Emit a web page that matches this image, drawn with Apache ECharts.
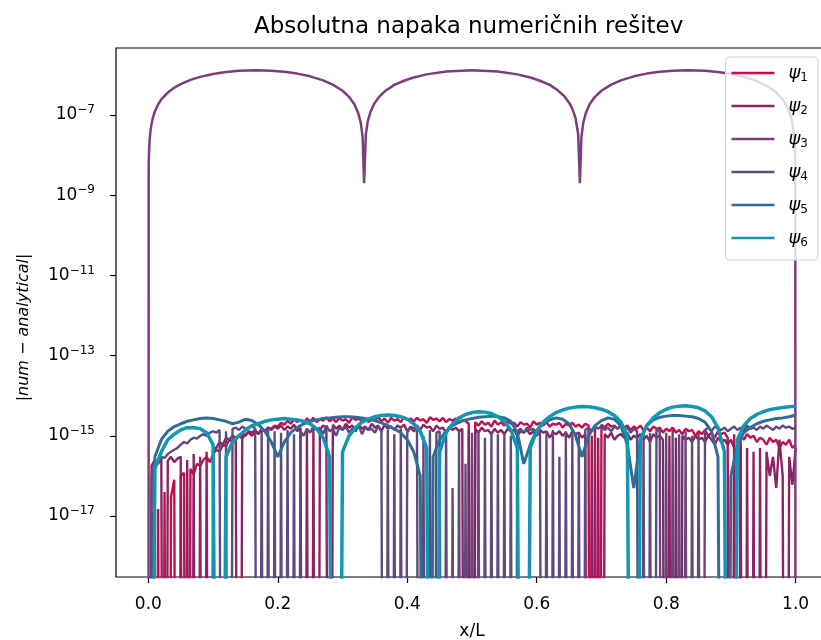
<!DOCTYPE html>
<html>
<head>
<meta charset="utf-8">
<script src="https://cdn.jsdelivr.net/npm/echarts@6/dist/echarts.min.js"></script>
<style>
  html, body { margin: 0; padding: 0; background: #fff; }
  #chart { width: 821px; height: 640px; }
</style>
</head>
<body>
<div id="chart"></div>
<script>
// sample positions x/L: fine grid (step 0.005) for the noisy series,
// coarse grid (step 0.01) for the smoother arches of psi5 / psi6
var xsFine = [], xsCoarse = [];
for (var i = 0; i <= 200; i++) xsFine.push(+(i * 0.005).toFixed(3));
for (var j = 0; j <= 100; j++) xsCoarse.push(+(j * 0.01).toFixed(2));

// |num - analytical|, units of 1e-15 (0 = exact zero)
var psi1 = [
  0, 0.012, 0, 0.015, 0, 0.04, 0, 0.03, 0.08, 0,
  0.1, 0.12, 0, 0.15, 0.11, 0.2, 0.18, 0.25, 0.3, 0.22,
  0.35, 0.45, 0.4, 0.6, 0.55, 0.8, 0.7, 0.9, 1.0, 0.85,
  1.1, 1.2, 1.0, 1.3, 1.15, 1.4, 1.3, 1.6, 1.5, 1.8,
  1.7, 2.1, 1.9, 2.4, 2.0, 2.6, 2.2, 2.5, 2.1, 2.7,
  2.3, 2.8, 2.2, 2.6, 2.4, 2.9, 2.3, 2.7, 2.2, 2.8,
  2.4, 2.6, 2.1, 2.9, 2.5, 2.7, 2.3, 2.8, 2.2, 2.6,
  2.5, 2.9, 2.3, 2.7, 2.1, 2.8, 2.4, 2.6, 2.2, 2.9,
  2.5, 2.7, 2.3, 2.8, 2.4, 2.6, 2.1, 2.9, 2.5, 2.7,
  2.3, 2.8, 2.2, 2.6, 2.4, 2.7, 2.1, 2.5, 2.3, 2.0,
  0, 2.2, 1.8, 2.3, 1.9, 2.1, 1.7, 2.4, 1.9, 2.2,
  1.8, 2.3, 2.0, 2.1, 1.7, 2.2, 1.9, 2.0, 1.6, 2.3,
  1.9, 2.1, 1.8, 2.2, 1.7, 2.0, 1.9, 2.1, 1.6, 2.0,
  1.8, 2.1, 1.7, 1.9, 1.6, 2.0, 1.8, 0, 1.7, 0,
  1.9, 1.6, 2.0, 1.7, 1.8, 1.5, 1.9, 1.6, 1.8, 1.4,
  1.7, 1.5, 1.8, 1.4, 1.6, 1.3, 1.7, 1.5, 1.6, 1.2,
  1.5, 1.3, 1.6, 1.2, 1.4, 1.1, 1.5, 1.3, 1.4, 1.0,
  1.3, 1.1, 1.4, 1.0, 1.2, 0.9, 1.3, 1.1, 1.2, 0.9,
  0, 1.1, 0, 1.0, 0.8, 1.1, 0.9, 1.0, 0.7, 0.9,
  0.8, 0.6, 0.9, 0.7, 0.8, 0.5, 0.7, 0.6, 0.8, 0.5,
  0.6
];
var psi2 = [
  0, 0.18, 0.25, 0.2, 0.28, 0, 0.24, 0.3, 0.22, 0.27,
  0.3, 0, 0.25, 0, 0.35, 0, 0.3, 0, 0.4, 0,
  0.45, 0.5, 0.7, 0.6, 0.9, 0.8, 1.0, 0.9, 0, 1.1,
  1.0, 1.3, 1.2, 1.4, 1.1, 1.5, 1.3, 1.6, 1.4, 1.7,
  1.5, 1.8, 1.4, 1.7, 1.5, 1.9, 1.3, 1.6, 0, 1.5,
  0, 1.7, 0, 1.4, 1.8, 1.6, 0, 1.9, 1.5, 1.8,
  1.4, 2.0, 1.6, 1.8, 1.3, 1.9, 1.5, 1.7, 1.4, 2.0,
  1.6, 1.8, 1.3, 1.9, 1.5, 1.7, 1.4, 1.8, 1.6, 1.9,
  1.3, 1.7, 1.5, 1.8, 1.4, 1.9, 1.6, 1.7, 1.3, 1.8,
  1.5, 1.6, 1.2, 1.7, 1.4, 1.6, 1.3, 1.5, 0, 1.4,
  0, 1.5, 1.2, 1.6, 1.3, 1.4, 1.1, 1.5, 1.2, 1.4,
  1.1, 1.5, 1.3, 1.4, 1.0, 1.3, 1.2, 1.4, 1.1, 1.3,
  1.0, 1.4, 1.2, 1.3, 0.9, 1.2, 1.1, 1.3, 1.0, 1.2,
  0.9, 1.3, 1.1, 1.2, 0.9, 1.1, 0, 1.0, 0, 0.9,
  0, 1.1, 0.9, 1.2, 0.8, 1.0, 1.1, 0.9, 1.2, 0.8,
  1.0, 0.9, 1.1, 0.8, 1.0, 0.7, 1.1, 0.9, 1.0, 0.8,
  0, 1.0, 0, 0.9, 0, 1.0, 0.8, 0.9, 0.7, 1.0,
  0.8, 0.9, 0.7, 1.0, 0.8, 0.6, 0.9, 0.7, 0.8, 0.6,
  0.8, 0.5, 0, 0.6, 0, 0.5, 0, 0.4, 0, 0.5,
  0, 0.4, 0.1, 0.3, 0.05, 0.8, 0.1, 0, 0.3, 0.06,
  0.5
];
var psi4 = [
  0, 0.1, 0.2, 0.25, 0.3, 0.28, 0.35, 0.4, 0.45, 0.5,
  0.6, 0.7, 0.65, 0.8, 0.9, 0.85, 1.0, 1.1, 1.0, 1.2,
  1.3, 1.2, 1.4, 0, 1.3, 0, 1.5, 1.6, 1.4, 1.7,
  1.5, 1.6, 1.8, 1.5, 0, 1.4, 0, 1.6, 0, 1.3,
  0, 1.2, 0, 1.4, 0, 1.1, 0, 1.3, 1.0, 1.5,
  1.2, 1.7, 1.4, 1.6, 1.1, 1.8, 1.3, 1.5, 1.0, 1.6,
  1.4, 1.7, 1.2, 1.5, 1.3, 1.8, 1.1, 1.6, 1.4, 1.5,
  1.2, 1.7, 1.3, 0, 1.4, 0, 1.1, 0, 1.5, 0,
  1.2, 1.6, 1.3, 1.5, 0, 1.0, 0, 1.4, 0, 1.2,
  1.3, 0, 1.4, 0, 0.05, 0, 1.3, 0, 0.2, 0,
  1.2, 0, 1.4, 0, 0.9, 0, 1.3, 0, 1.1, 0,
  1.2, 0, 1.0, 0, 1.3, 1.5, 1.2, 1.6, 1.4, 1.5,
  1.1, 1.3, 0, 1.2, 0, 1.4, 0, 0.3, 0, 1.3,
  0, 1.1, 0, 1.2, 0, 1.4, 1.6, 1.3, 1.7, 1.5,
  1.8, 1.4, 1.6, 1.3, 1.7, 1.5, 1.8, 1.4, 1.6, 1.2,
  1.5, 1.3, 0, 1.4, 0, 1.2, 0, 1.5, 1.3, 0,
  1.2, 0, 1.4, 0, 1.1, 0, 1.3, 0, 1.0, 0,
  1.2, 0, 1.4, 1.6, 1.3, 1.7, 1.5, 1.4, 1.6, 1.3,
  1.5, 1.7, 1.4, 1.6, 1.3, 1.8, 1.5, 1.6, 1.4, 1.7,
  1.5, 1.8, 1.6, 1.4, 1.7, 1.5, 1.8, 1.6, 1.7, 1.5,
  1.6
];
var psi5 = [
  0, 0.3, 0.8, 1.3, 1.7, 2.0, 2.3, 2.5, 2.7, 2.8,
  2.7, 2.5, 2.3, 2.0, 2.2, 2.6, 2.4, 1.9, 1.3, 0.7,
  0.3, 0.7, 1.2, 1.6, 2.0, 2.3, 2.5, 2.7, 2.8, 2.9,
  3.0, 3.0, 2.9, 2.8, 2.6, 2.4, 2.1, 1.8, 1.5, 1.2,
  0.8, 0.4, 0.1, 0, 0.3, 0.8, 1.3, 1.8, 2.2, 2.5,
  2.7, 2.9, 3.0, 3.1, 3.0, 2.8, 2.3, 1.2, 0.2, 0.6,
  1.4, 2.0, 2.5, 2.8, 2.6, 2.0, 1.0, 0.3, 1.0, 1.8,
  2.4, 2.8, 2.6, 1.8, 0.6, 0.05, 0.8, 1.8, 2.5, 2.9,
  3.1, 3.2, 3.2, 3.1, 3.0, 2.7, 2.2, 1.3, 0.3, 0,
  0.1, 0.6, 1.2, 1.6, 2.0, 2.3, 2.5, 2.7, 2.8, 3.0,
  3.3
];
var psi6 = [
  0, 0.15, 0.4, 0.8, 1.1, 1.4, 1.6, 1.6, 1.5, 1.2,
  0.6, 0, 0.3, 0.7, 1.0, 1.4, 1.8, 2.0, 2.3, 2.5,
  2.6, 2.7, 2.6, 2.5, 2.3, 2.0, 1.5, 0.9, 0.3, 0,
  0.4, 1.0, 1.6, 2.2, 2.6, 3.0, 3.2, 3.3, 3.2, 3.0,
  2.6, 2.0, 1.3, 0.5, 0, 0.4, 1.2, 2.0, 2.8, 3.4,
  3.8, 4.0, 3.9, 3.6, 3.0, 2.3, 1.4, 0.5, 0, 0.5,
  1.3, 2.2, 3.0, 3.8, 4.4, 4.9, 5.2, 5.4, 5.3, 5.0,
  4.6, 4.0, 3.2, 2.2, 1.0, 0, 0.8, 1.8, 2.8, 3.8,
  4.6, 5.2, 5.5, 5.6, 5.4, 5.0, 4.2, 3.0, 1.6, 0.4,
  0, 0.8, 1.8, 2.7, 3.4, 4.0, 4.5, 4.8, 5.1, 5.3,
  5.5
];

// psi3 is much larger, units of 1e-6, on its own x positions
var xs3 = [
  0, 0.0005, 0.001, 0.002, 0.003, 0.005, 0.007, 0.01, 0.015, 0.02,
  0.03, 0.04, 0.05, 0.065, 0.08, 0.1, 0.12, 0.14, 0.1667, 0.19,
  0.21, 0.23, 0.25, 0.27, 0.285, 0.3, 0.31, 0.318, 0.324, 0.328,
  0.331, 0.3333, 0.336, 0.339, 0.343, 0.349, 0.357, 0.367, 0.38, 0.395,
  0.41, 0.43, 0.46, 0.5, 0.54, 0.57, 0.59, 0.605, 0.62, 0.632,
  0.642, 0.65, 0.655, 0.66, 0.664, 0.6667, 0.669, 0.672, 0.676, 0.682,
  0.69, 0.7, 0.715, 0.73, 0.75, 0.77, 0.79, 0.81, 0.8333, 0.86,
  0.88, 0.9, 0.92, 0.935, 0.95, 0.96, 0.97, 0.98, 0.985, 0.99,
  0.993, 0.995, 0.997, 0.998, 0.999, 0.9995, 1.0
];
var psi3 = [
  0, 0.0061, 0.0122, 0.0245, 0.0367, 0.0612, 0.0857, 0.122, 0.183, 0.244,
  0.363, 0.479, 0.59, 0.748, 0.89, 1.052, 1.176, 1.259, 1.3, 1.269,
  1.193, 1.075, 0.919, 0.731, 0.572, 0.402, 0.284, 0.187, 0.114, 0.0654,
  0.0286, 0.002, 0.033, 0.0694, 0.118, 0.192, 0.289, 0.409, 0.562, 0.714,
  0.862, 1.029, 1.217, 1.3, 1.217, 1.029, 0.862, 0.714, 0.562, 0.418,
  0.3, 0.203, 0.143, 0.082, 0.033, 0.002, 0.028, 0.065, 0.114, 0.188,
  0.284, 0.402, 0.572, 0.731, 0.919, 1.075, 1.193, 1.269, 1.3, 1.259,
  1.176, 1.052, 0.89, 0.748, 0.59, 0.479, 0.363, 0.244, 0.183, 0.122,
  0.0857, 0.0612, 0.0367, 0.0245, 0.0122, 0.0061, 0
];

var names = ['ψ1', 'ψ2', 'ψ3', 'ψ4', 'ψ5', 'ψ6'];
var colors = ['#c30f52', '#8c2363', '#7b3d7c', '#5e4b7e', '#2e6e97', '#0f97b3'];
var yTicks = [-17, -15, -13, -11, -9, -7];
var xTicks = [0, 0.2, 0.4, 0.6, 0.8, 1.0];

// exact zeros drop to the bottom of the log axis
function toLog(v) { return v > 0 ? Math.log10(v) : -40; }

function pairs(x, vals, unit) {
  return x.map(function (xv, i) { return [xv, toLog(vals[i] * unit)]; });
}

var seriesData = [
  pairs(xsFine, psi1, 1e-15),
  pairs(xsFine, psi2, 1e-15),
  pairs(xs3, psi3, 1e-6),
  pairs(xsFine, psi4, 1e-15),
  pairs(xsCoarse, psi5, 1e-15),
  pairs(xsCoarse, psi6, 1e-15)
];
var widths = [2.4, 2.4, 2.5, 2.4, 3, 3.5];

var chart = echarts.init(document.getElementById('chart'));
var font = 'DejaVu Sans';

var option = {
  animation: false,
  backgroundColor: '#fff',
  title: {
    text: 'Absolutna napaka numeričnih rešitev',
    left: 249, top: 11,
    textStyle: { fontFamily: font, fontSize: 23, fontWeight: 'normal', color: '#000' }
  },
  grid: {
    left: 116, top: 48, width: 712, height: 529,
    outerBoundsMode: 'none',
    show: true, borderColor: '#000', borderWidth: 1.2, backgroundColor: 'transparent'
  },
  legend: {
    orient: 'vertical',
    right: 3, top: 57,
    data: names,
    icon: 'rect',
    itemWidth: 43, itemHeight: 2.5,
    itemGap: 11,
    padding: [5, 10, 11, 6],
    backgroundColor: 'rgba(255,255,255,0.8)',
    borderColor: '#d3d3d3', borderWidth: 1, borderRadius: 4,
    formatter: function (n) { return '{p|ψ}{s|' + n.slice(1) + '}'; },
    textStyle: {
      fontFamily: font, color: '#000', lineHeight: 22,
      rich: {
        p: { fontFamily: font, fontSize: 18, fontStyle: 'italic', padding: [0, 0, 0, 9], lineHeight: 22 },
        s: { fontFamily: font, fontSize: 12, verticalAlign: 'bottom', lineHeight: 22, padding: [8, 0, 0, 0] }
      }
    }
  },
  xAxis: {
    type: 'value', min: -0.05, max: 1.05,
    name: 'x/L', nameLocation: 'middle', nameGap: 46,
    nameTextStyle: { fontFamily: font, fontSize: 17, color: '#000' },
    axisLine: { show: false, onZero: false },
    axisTick: { show: true, length: 6, customValues: xTicks, lineStyle: { color: '#000', width: 1.2 } },
    axisLabel: {
      customValues: xTicks, margin: 19,
      fontFamily: font, fontSize: 17, color: '#000',
      formatter: function (v) { return v.toFixed(1); }
    },
    splitLine: { show: false }
  },
  yAxis: {
    type: 'value', min: -18.52, max: -5.33,
    name: '|num − analytical|', nameLocation: 'middle', nameGap: 84, nameRotate: 90,
    nameTextStyle: { fontFamily: font, fontSize: 16, fontStyle: 'italic', color: '#000', padding: [0, 30, 0, 0] },
    axisLine: { show: false, onZero: false },
    axisTick: { show: true, length: 6, customValues: yTicks, lineStyle: { color: '#000', width: 1.2 } },
    axisLabel: {
      customValues: yTicks, margin: 21,
      formatter: function (v) { return '{b|10}{e|−' + Math.abs(v) + '}'; },
      rich: {
        b: { fontFamily: font, fontSize: 17, color: '#000', lineHeight: 22 },
        e: { fontFamily: font, fontSize: 12, color: '#000', verticalAlign: 'top', lineHeight: 12 }
      }
    },
    splitLine: { show: false }
  },
  series: names.map(function (n, k) {
    return {
      name: n, type: 'line',
      data: seriesData[k],
      symbol: 'none', showSymbol: false,
      clip: true,
      color: colors[k],
      lineStyle: { color: colors[k], width: widths[k] },
      emphasis: { disabled: true }
    };
  })
};

chart.setOption(option);
</script>
</body>
</html>
